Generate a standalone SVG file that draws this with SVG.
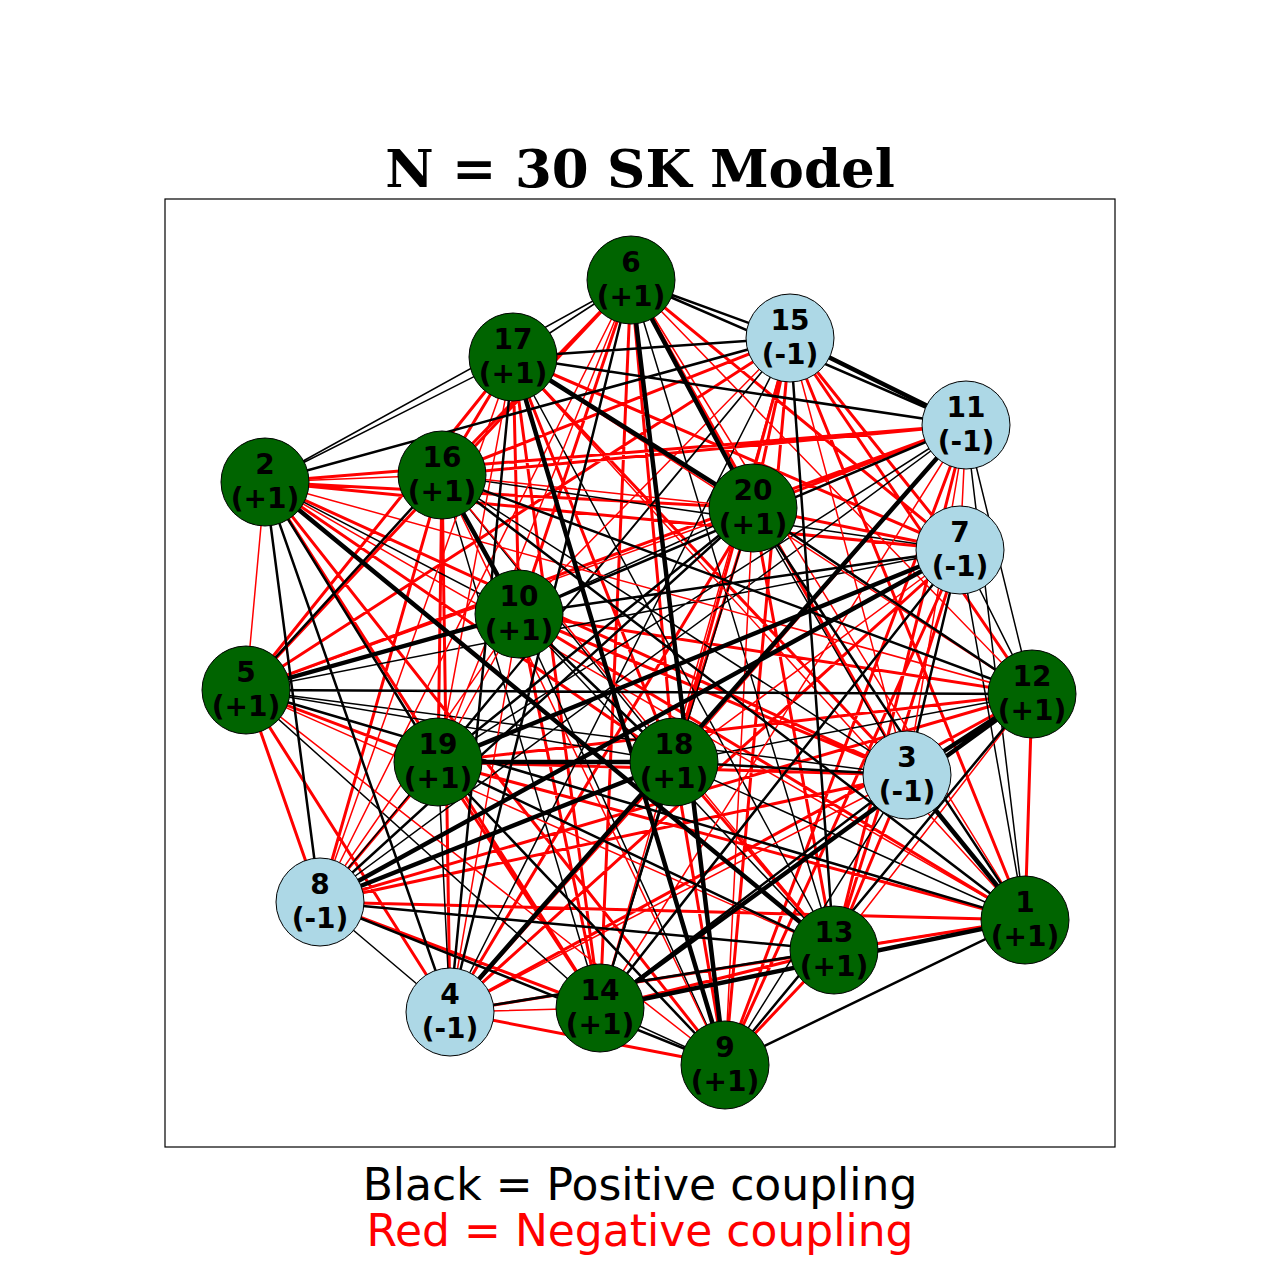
<svg xmlns="http://www.w3.org/2000/svg" width="1280" height="1280" viewBox="0 0 1280 1280">
<style>
.e{fill:none;stroke-linecap:round}
.a{stroke:#ff0000;stroke-width:3}
.b{stroke:#000;stroke-width:1.5}
.c{stroke:#ff0000;stroke-width:1.5}
.d{stroke:#000;stroke-width:4.5}
.f{stroke:#000;stroke-width:2.5}
.g circle{stroke:#000;stroke-width:1}
.p{fill:#006400}
.m{fill:#add8e6}
.g text{font-family:"DejaVu Sans",sans-serif;font-weight:bold;font-size:28px;text-anchor:middle;dominant-baseline:central;fill:#000}
</style>
<rect width="1280" height="1280" fill="#fff"/>
<text x="640" y="187" font-family="DejaVu Serif,serif" font-weight="bold" font-size="53" text-anchor="middle">N = 30 SK Model</text>
<rect x="165" y="199" width="950" height="948" fill="none" stroke="#000" stroke-width="1.2"/>
<g id="edges">
<path class="e a" d="M1025,920L450,1012M1025,920L320,902M1025,920L519,614M1025,920L1032,694M1025,920L790,338M1025,920L438,762M265,482L907,775M265,482L960,550M265,482L725,1065M265,482L966,425M265,482L600,1008M265,482L674,762M265,482L753,508M907,775L631,280M907,775L320,902M907,775L519,614M907,775L834,950M907,775L513,357M907,775L438,762M450,1012L246,690M450,1012L960,550M450,1012L725,1065M450,1012L1032,694M450,1012L442,475M450,1012L674,762M450,1012L753,508M246,690L631,280M246,690L320,902M246,690L966,425M246,690L790,338M246,690L513,357M246,690L438,762M631,280L960,550M631,280L519,614M631,280L600,1008M631,280L442,475M631,280L674,762M960,550L725,1065M960,550L834,950M960,550L790,338M960,550L513,357M960,550L753,508M320,902L1032,694M320,902L600,1008M320,902L442,475M320,902L438,762M725,1065L966,425M725,1065L834,950M725,1065L790,338M725,1065L674,762M519,614L1032,694M519,614L600,1008M519,614L513,357M966,425L834,950M966,425L442,475M966,425L753,508M1032,694L790,338M1032,694L438,762M834,950L600,1008M834,950L674,762M834,950L753,508M600,1008L513,357M600,1008L438,762M790,338L442,475M790,338L674,762M790,338L753,508M442,475L513,357M442,475L438,762M513,357L674,762M674,762L753,508"/>
<path class="e b" d="M1025,920L960,550M1025,920L966,425M1025,920L674,762M265,482L631,280M265,482L519,614M265,482L513,357M907,775L246,690M907,775L725,1065M907,775L442,475M907,775L753,508M450,1012L320,902M450,1012L790,338M450,1012L438,762M246,690L960,550M246,690L600,1008M246,690L674,762M631,280L834,950M631,280L513,357M960,550L1032,694M960,550L442,475M320,902L966,425M320,902L790,338M725,1065L519,614M725,1065L600,1008M519,614L834,950M519,614L753,508M966,425L1032,694M966,425L438,762M1032,694L674,762M834,950L513,357M600,1008L442,475M600,1008L753,508M790,338L438,762M442,475L674,762"/>
<path class="e c" d="M1025,920L265,482M1025,920L631,280M1025,920L834,950M1025,920L513,357M265,482L246,690M265,482L1032,694M265,482L442,475M907,775L450,1012M907,775L966,425M907,775L790,338M450,1012L519,614M450,1012L600,1008M246,690L725,1065M246,690L834,950M246,690L753,508M631,280L320,902M631,280L1032,694M631,280L438,762M960,550L966,425M960,550L674,762M320,902L519,614M320,902L513,357M725,1065L442,475M725,1065L753,508M519,614L790,338M519,614L438,762M966,425L600,1008M966,425L674,762M1032,694L834,950M1032,694L513,357M834,950L442,475M600,1008L790,338M442,475L753,508M513,357L438,762"/>
<path class="e d" d="M1025,920L907,775M1025,920L600,1008M265,482L834,950M907,775L1032,694M450,1012L966,425M246,690L519,614M631,280L725,1065M631,280L753,508M960,550L320,902M960,550L438,762M320,902L674,762M725,1065L513,357M519,614L442,475M966,425L790,338M1032,694L600,1008M513,357L753,508M674,762L438,762"/>
<path class="e f" d="M1025,920L246,690M1025,920L725,1065M1025,920L442,475M1025,920L753,508M265,482L450,1012M265,482L320,902M265,482L790,338M265,482L438,762M907,775L960,550M907,775L600,1008M907,775L674,762M450,1012L631,280M450,1012L834,950M450,1012L513,357M246,690L1032,694M246,690L442,475M631,280L966,425M631,280L790,338M960,550L519,614M960,550L600,1008M320,902L725,1065M320,902L834,950M320,902L753,508M725,1065L1032,694M725,1065L438,762M519,614L966,425M519,614L674,762M966,425L513,357M1032,694L442,475M1032,694L753,508M834,950L790,338M834,950L438,762M600,1008L674,762M790,338L513,357M438,762L753,508"/>
</g>
<g id="n1" class="g"><circle class="p" cx="1025" cy="920" r="44"/><text x="1025" y="902">1</text><text x="1025" y="936">(+1)</text></g>
<g id="n2" class="g"><circle class="p" cx="265" cy="482" r="44"/><text x="265" y="464">2</text><text x="265" y="498">(+1)</text></g>
<g id="n3" class="g"><circle class="m" cx="907" cy="775" r="44"/><text x="907" y="757">3</text><text x="907" y="791">(-1)</text></g>
<g id="n4" class="g"><circle class="m" cx="450" cy="1012" r="44"/><text x="450" y="994">4</text><text x="450" y="1028">(-1)</text></g>
<g id="n5" class="g"><circle class="p" cx="246" cy="690" r="44"/><text x="246" y="672">5</text><text x="246" y="706">(+1)</text></g>
<g id="n6" class="g"><circle class="p" cx="631" cy="280" r="44"/><text x="631" y="262">6</text><text x="631" y="296">(+1)</text></g>
<g id="n7" class="g"><circle class="m" cx="960" cy="550" r="44"/><text x="960" y="532">7</text><text x="960" y="566">(-1)</text></g>
<g id="n8" class="g"><circle class="m" cx="320" cy="902" r="44"/><text x="320" y="884">8</text><text x="320" y="918">(-1)</text></g>
<g id="n9" class="g"><circle class="p" cx="725" cy="1065" r="44"/><text x="725" y="1047">9</text><text x="725" y="1081">(+1)</text></g>
<g id="n10" class="g"><circle class="p" cx="519" cy="614" r="44"/><text x="519" y="596">10</text><text x="519" y="630">(+1)</text></g>
<g id="n11" class="g"><circle class="m" cx="966" cy="425" r="44"/><text x="966" y="407">11</text><text x="966" y="441">(-1)</text></g>
<g id="n12" class="g"><circle class="p" cx="1032" cy="694" r="44"/><text x="1032" y="676">12</text><text x="1032" y="710">(+1)</text></g>
<g id="n13" class="g"><circle class="p" cx="834" cy="950" r="44"/><text x="834" y="932">13</text><text x="834" y="966">(+1)</text></g>
<g id="n14" class="g"><circle class="p" cx="600" cy="1008" r="44"/><text x="600" y="990">14</text><text x="600" y="1024">(+1)</text></g>
<g id="n15" class="g"><circle class="m" cx="790" cy="338" r="44"/><text x="790" y="320">15</text><text x="790" y="354">(-1)</text></g>
<g id="n16" class="g"><circle class="p" cx="442" cy="475" r="44"/><text x="442" y="457">16</text><text x="442" y="491">(+1)</text></g>
<g id="n17" class="g"><circle class="p" cx="513" cy="357" r="44"/><text x="513" y="339">17</text><text x="513" y="373">(+1)</text></g>
<g id="n18" class="g"><circle class="p" cx="674" cy="762" r="44"/><text x="674" y="744">18</text><text x="674" y="778">(+1)</text></g>
<g id="n19" class="g"><circle class="p" cx="438" cy="762" r="44"/><text x="438" y="744">19</text><text x="438" y="778">(+1)</text></g>
<g id="n20" class="g"><circle class="p" cx="753" cy="508" r="44"/><text x="753" y="490">20</text><text x="753" y="524">(+1)</text></g>
<text x="640" y="1200" font-family="DejaVu Sans,sans-serif" font-size="44" text-anchor="middle" fill="#000">Black = Positive coupling</text>
<text x="640" y="1246" font-family="DejaVu Sans,sans-serif" font-size="44" text-anchor="middle" fill="#ff0000">Red = Negative coupling</text>
</svg>
